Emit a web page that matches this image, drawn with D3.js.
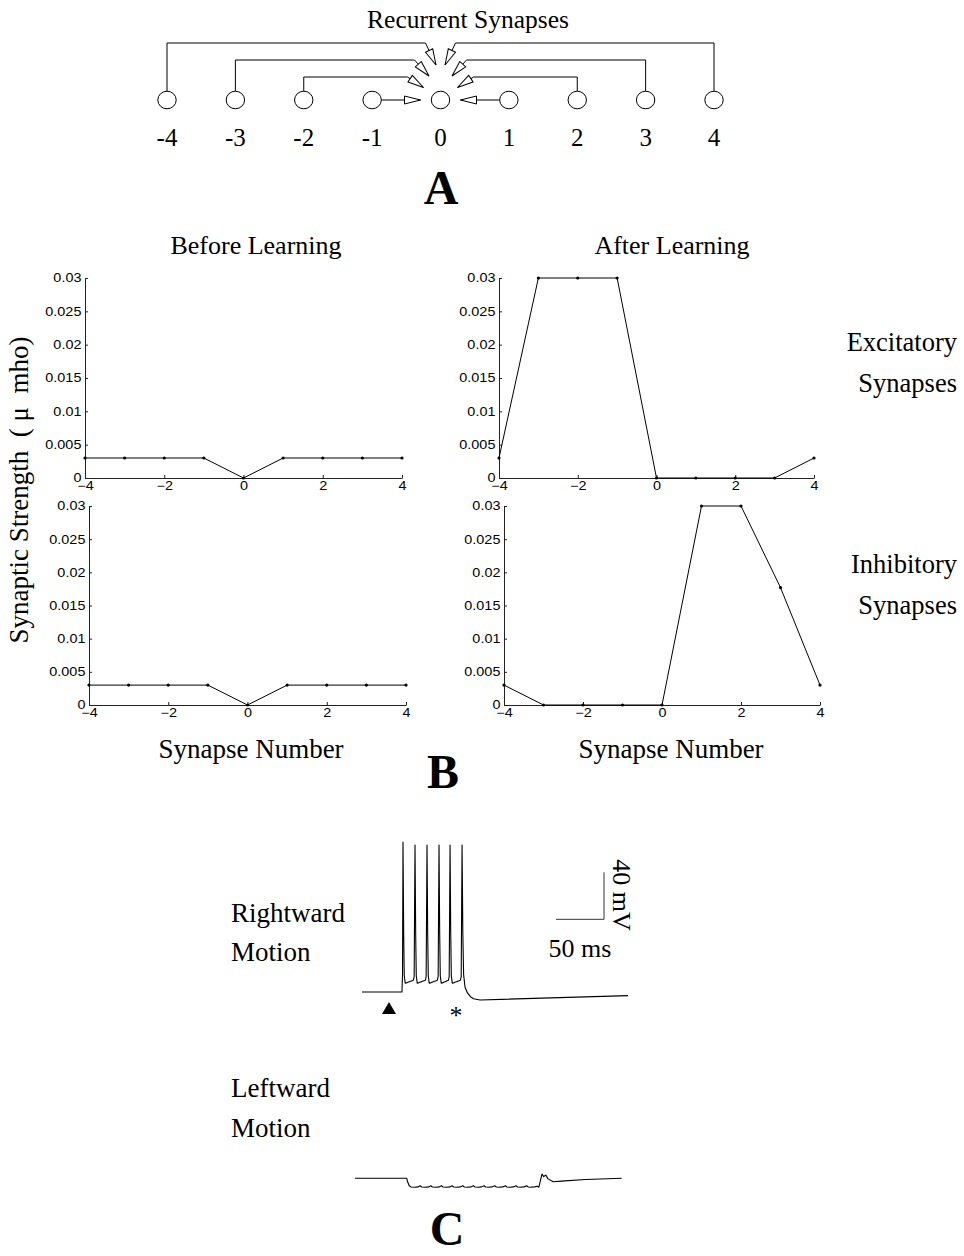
<!DOCTYPE html>
<html>
<head>
<meta charset="utf-8">
<script src="https://cdn.jsdelivr.net/npm/d3@7"></script>
<style>
    body { margin: 0; background: #fff; }
    svg { display: block; }
    .serif { font-family: "Liberation Serif", "Times New Roman", serif; }
    .tick text { font-family: "Liberation Sans", Arial, sans-serif; font-size: 12px; fill: #000; }
    .tick line, .domain { stroke: #222; }
</style>
</head>
<body>
<div id="chart"></div>
<script>
// panel A : neurons of the recurrent layer
var neurons = [-4, -3, -2, -1, 0, 1, 2, 3, 4];

// panel B : synaptic strength per synapse number
var synapseNumbers = [-4, -3, -2, -1, 0, 1, 2, 3, 4];
var excBefore = [0.003, 0.003, 0.003, 0.003, 0, 0.003, 0.003, 0.003, 0.003];
var excAfter = [0.003, 0.03, 0.03, 0.03, 0, 0, 0, 0, 0.003];
var inhBefore = [0.003, 0.003, 0.003, 0.003, 0, 0.003, 0.003, 0.003, 0.003];
var inhAfter = [0.003, 0, 0, 0, 0, 0.03, 0.03, 0.0177, 0.003];
var strengthTicks = [0, 0.005, 0.01, 0.015, 0.02, 0.025, 0.03];
var numberTicks = [-4, -2, 0, 2, 4];

// panel C : membrane potential traces (ms, mV)
var rightTime = [0, 41.6, 42.2, 42.7, 43.4, 44.0, 45.0, 47, 50, 53.5,
    54.3, 55.2, 55.9, 56.5, 57.5, 59.5, 62.5, 66,
    66.8, 67.7, 68.4, 69.0, 70.0, 72, 75, 78.5,
    79.3, 80.2, 80.9, 81.5, 82.5, 84.5, 87, 90,
    90.8, 91.7, 92.4, 93.0, 94.0, 96, 99, 102.5,
    103.3, 104.2, 105.0, 105.8, 107.3, 110, 113, 116, 123, 277];
var rightVolt = [-70, -70, -55, 57.7, -20, -56, -62.5, -62, -61, -60,
    -57, 55.1, -20, -56, -62.5, -62, -61, -60,
    -57, 55.1, -20, -56, -62.5, -62, -61, -60,
    -57, 55.1, -20, -56, -62.5, -62, -61, -60,
    -57, 55.1, -20, -56, -62.5, -62, -61, -60,
    -57, 55.1, -20, -55, -66, -71, -74, -75.8, -76.8, -73.1];

var leftTime = [0, 53.9, 54.8, 56.5, 58.5, 62, 66,
    67.8, 69.5, 73, 77, 78.9, 80.6, 84, 88, 90, 91.7, 95, 99,
    101.1, 102.8, 106, 110, 112.2, 113.9, 117, 121, 123.3, 125, 128, 132,
    134.4, 136.1, 139, 143, 145.5, 147.2, 150, 154, 156.6, 158.3, 161, 165,
    167.7, 169.4, 172, 176, 178.8, 180.5, 183, 187, 189.9, 191.5,
    192.3, 194.8, 196.6, 198.8, 201, 206.5, 215, 240, 277.8];
var leftVolt = [-70, -70, -73, -76.4, -77.4, -77.6, -77.3,
    -76.3, -77.4, -77.6, -77.3, -76.3, -77.4, -77.6, -77.3, -76.3, -77.4, -77.6, -77.3,
    -76.3, -77.4, -77.6, -77.3, -76.3, -77.4, -77.6, -77.3, -76.3, -77.4, -77.6, -77.3,
    -76.3, -77.4, -77.6, -77.3, -76.3, -77.4, -77.6, -77.3, -76.3, -77.4, -77.6, -77.3,
    -76.3, -77.4, -77.6, -77.3, -76.3, -77.4, -77.6, -77.3, -76.8, -77.6,
    -75, -66.3, -68.6, -67.2, -70.5, -72.9, -72.4, -71, -70];

var svg = d3.select('#chart')
    .append('svg')
    .attr('width', 964)
    .attr('height', 1256);

function label(x, y, txt, size, anchor, weight) {
    return svg.append('text')
        .attr('class', 'serif')
        .attr('x', x)
        .attr('y', y)
        .style('font-size', size + 'px')
        .style('font-weight', weight || 'normal')
        .style('white-space', 'pre')
        .attr('text-anchor', anchor || 'middle')
        .text(txt);
}

// ---------- A ----------
function drawPanelA() {
    var x = d3.scaleLinear().domain([-4, 4]).range([167, 714]);
    var cy = 100, rx = 9.2, ry = 8.8;
    var cx = x(0);

    svg.append('defs').append('marker')
        .attr('id', 'open-arrow')
        .attr('viewBox', '-1 -6 18 12')
        .attr('markerUnits', 'userSpaceOnUse')
        .attr('markerWidth', 18)
        .attr('markerHeight', 12)
        .attr('refX', 16)
        .attr('refY', 0)
        .attr('orient', 'auto')
        .append('path')
        .attr('d', 'M0,-4L16,0L0,4Z')
        .attr('fill', '#fff')
        .attr('stroke', '#000')
        .attr('stroke-width', 1);

    // bracket level, bend offset and tip offset per distance
    var level = {2: 77, 3: 60, 4: 43};
    var bend = {2: 33, 3: 26, 4: 15};
    var tip = {2: [17, 87.5], 3: [11.5, 76], 4: [4.5, 65]};

    neurons.forEach(function (n) {
        if (n === 0) return;
        var s = n < 0 ? -1 : 1;
        var d = Math.abs(n);
        var pts;
        if (d === 1) {
            pts = [[x(n) - s * rx, cy], [cx + s * 20, cy]];
        } else {
            pts = [[x(n), cy - ry], [x(n), level[d]], [cx + s * bend[d], level[d]],
                [cx + s * tip[d][0], tip[d][1]]];
        }
        svg.append('path')
            .attr('d', d3.line()(pts))
            .attr('fill', 'none')
            .attr('stroke', '#000')
            .attr('stroke-width', 1)
            .attr('marker-end', 'url(#open-arrow)');
    });

    svg.selectAll('ellipse.neuron')
        .data(neurons)
        .enter()
        .append('ellipse')
        .attr('class', 'neuron')
        .attr('cx', function (d) { return x(d); })
        .attr('cy', cy)
        .attr('rx', rx)
        .attr('ry', ry)
        .attr('fill', '#fff')
        .attr('stroke', '#000');

    svg.selectAll('text.nlabel')
        .data(neurons)
        .enter()
        .append('text')
        .attr('class', 'nlabel serif')
        .attr('x', function (d) { return x(d); })
        .attr('y', 146)
        .attr('text-anchor', 'middle')
        .style('font-size', '25px')
        .text(function (d) { return d; });

    label(468, 28, 'Recurrent Synapses', 25.5);
    label(441, 204, 'A', 48, 'middle', 'bold');
}

// ---------- B ----------
function drawPlot(values, left, right, top, bottom) {
    var x = d3.scaleLinear().domain([-4, 4]).range([left, right]);
    var y = d3.scaleLinear().domain([0, 0.03]).range([bottom, top]);
    var g = svg.append('g');

    var ya = g.append('g')
        .attr('transform', 'translate(' + left + ',0)')
        .call(d3.axisLeft(y)
            .tickValues(strengthTicks)
            .tickSize(-3)
            .tickSizeOuter(0)
            .tickPadding(3)
            .tickFormat(function (d) { return d === 0 ? '0' : String(+d.toFixed(3)); }));

    var xa = g.append('g')
        .attr('transform', 'translate(0,' + bottom + ')')
        .call(d3.axisBottom(x)
            .tickValues(numberTicks)
            .tickSize(-3)
            .tickSizeOuter(0)
            .tickPadding(3)
            .tickFormat(function (d) { return d < 0 ? '\u2212' + (-d) : d; }));

    // the original tick font is drawn wide
    ya.selectAll('.tick text').attr('transform', 'scale(1.2,1)');
    xa.selectAll('.tick text').attr('transform', 'scale(1.2,1)');

    var pts = synapseNumbers.map(function (n, i) { return [n, values[i]]; });
    var line = d3.line()
        .x(function (d) { return x(d[0]); })
        .y(function (d) { return y(d[1]); });

    g.append('path')
        .datum(pts)
        .attr('d', line)
        .attr('fill', 'none')
        .attr('stroke', '#000')
        .attr('stroke-width', 1);

    g.selectAll('circle')
        .data(pts)
        .enter()
        .append('circle')
        .attr('cx', function (d) { return x(d[0]); })
        .attr('cy', function (d) { return y(d[1]); })
        .attr('r', 1.6)
        .attr('fill', '#000');
}

function drawPanelB() {
    label(256, 254, 'Before Learning', 26);
    label(672, 254, 'After Learning', 26);

    drawPlot(excBefore, 85, 402, 278, 478);
    drawPlot(excAfter, 499, 814, 278, 478);
    drawPlot(inhBefore, 89, 406, 506, 705);
    drawPlot(inhAfter, 504, 820, 506, 705);

    label(957, 351, 'Excitatory', 26.5, 'end');
    label(957, 392, 'Synapses', 26.5, 'end');
    label(957, 573, 'Inhibitory', 26.5, 'end');
    label(957, 614, 'Synapses', 26.5, 'end');

    label(0, 0, 'Synaptic Strength  ( \u03bc  mho)', 27)
        .attr('transform', 'translate(28,490) rotate(-90)');

    label(251, 758, 'Synapse Number', 27);
    label(671, 758, 'Synapse Number', 27);
    label(443, 788, 'B', 48, 'middle', 'bold');
}

// ---------- C ----------
function drawTrace(times, volts, x, y) {
    var pts = times.map(function (t, i) { return [t, volts[i]]; });
    svg.append('path')
        .datum(pts)
        .attr('d', d3.line()
            .x(function (d) { return x(d[0]); })
            .y(function (d) { return y(d[1]); }))
        .attr('fill', 'none')
        .attr('stroke', '#000')
        .attr('stroke-width', 1.1)
        .attr('stroke-linejoin', 'round');
}

function drawPanelC() {
    var xR = d3.scaleLinear().domain([0, 277]).range([362, 628]);
    var yR = d3.scaleLinear().domain([-70, -30]).range([992, 945]);
    var xL = d3.scaleLinear().domain([0, 277.8]).range([355, 621.7]);
    var yL = d3.scaleLinear().domain([-70, -30]).range([1178.3, 1131.3]);

    drawTrace(rightTime, rightVolt, xR, yR);
    drawTrace(leftTime, leftVolt, xL, yL);

    // scale bar: 50 ms by 40 mV
    var bx = 604, by = 919.3;
    var w = xR(50) - xR(0);
    var h = yR(-70) - yR(-30);
    svg.append('path')
        .attr('d', d3.line()([[bx - w, by], [bx, by], [bx, by - h]]))
        .attr('fill', 'none')
        .attr('stroke', '#333')
        .attr('stroke-width', 1);
    label(580, 957, '50 ms', 26);
    label(0, 0, '40 mV', 26)
        .attr('transform', 'translate(613,895) rotate(90)');

    // stimulus onset marker and end marker
    svg.append('path')
        .attr('d', d3.line()([[382, 1014], [389, 1002], [396, 1014]]) + 'Z')
        .attr('fill', '#000');
    label(456, 1024, '*', 26);

    label(231, 922, 'Rightward', 27, 'start');
    label(231, 961, 'Motion', 27, 'start');
    label(231, 1097, 'Leftward', 27, 'start');
    label(231, 1137, 'Motion', 27, 'start');
    label(447, 1245, 'C', 48, 'middle', 'bold');
}

drawPanelA();
drawPanelB();
drawPanelC();
</script>
</body>
</html>
